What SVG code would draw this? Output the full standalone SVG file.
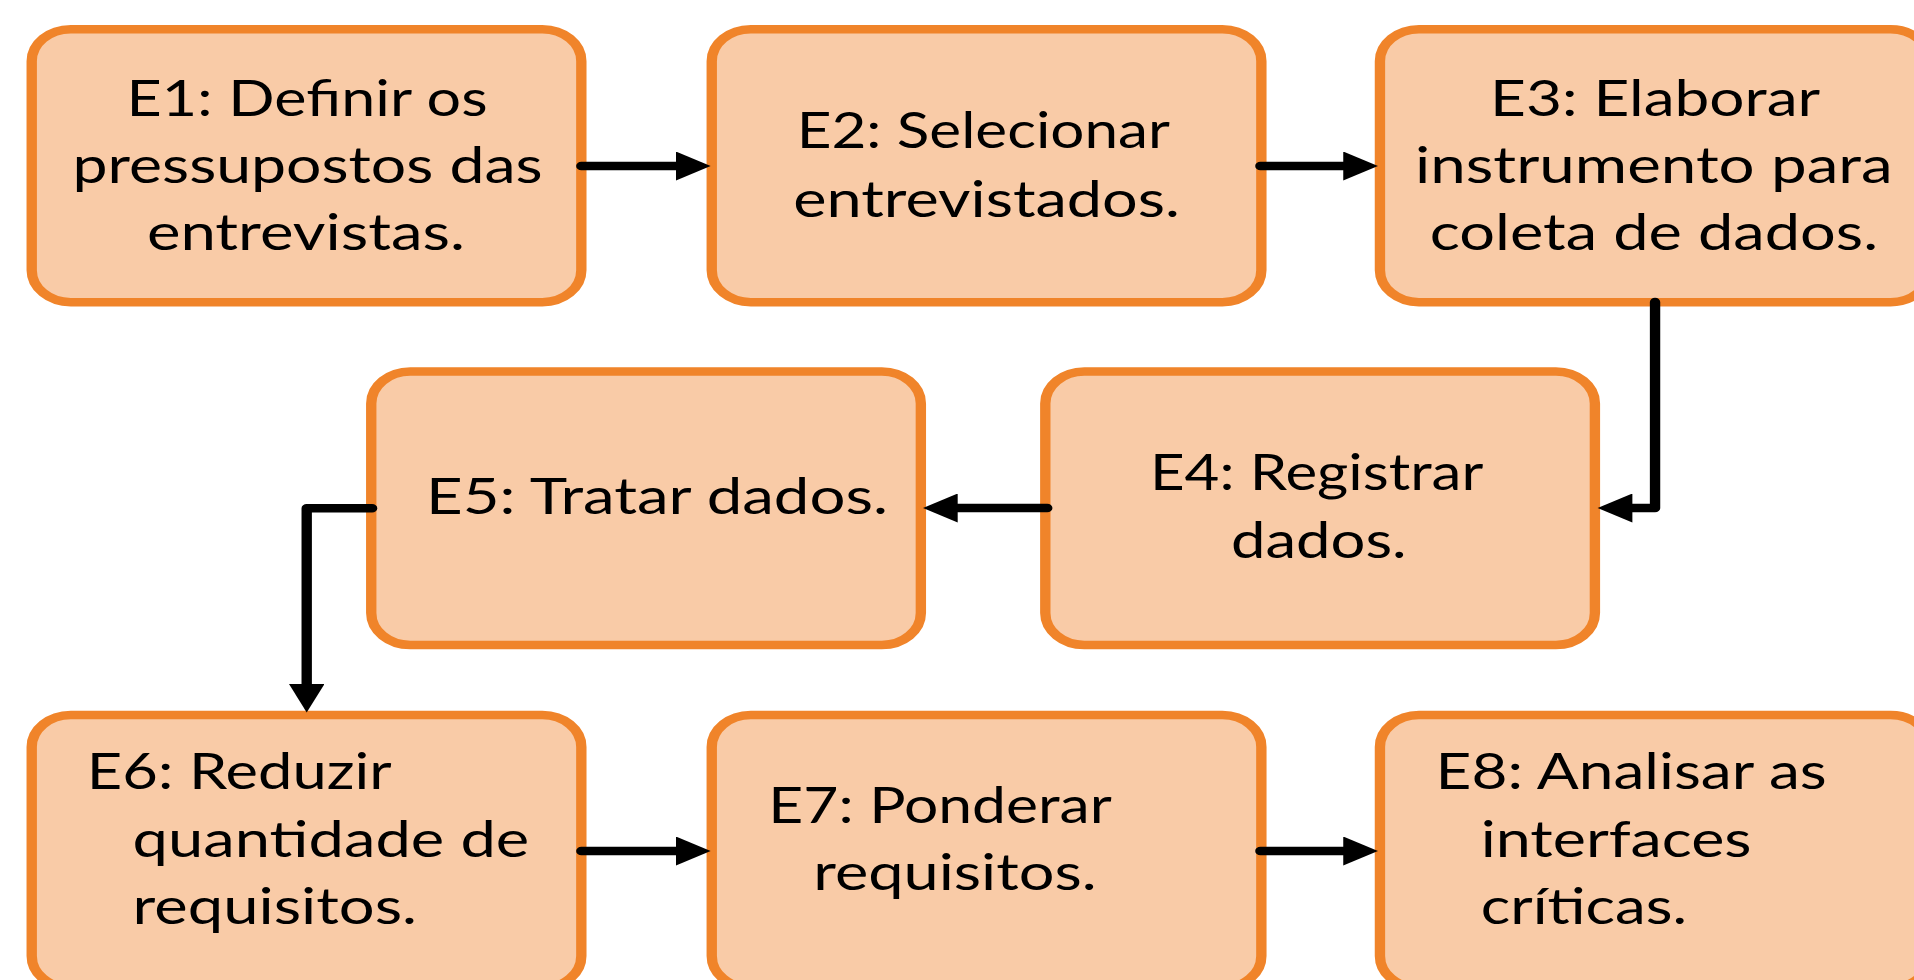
<svg xmlns="http://www.w3.org/2000/svg" width="1914" height="980" viewBox="0 0 1914 980">
  <style>
    .box { fill: #F9CBA7; stroke: #F0842A; stroke-width: 8.5; }
    .lbl { font-family: Lato, "Liberation Sans", sans-serif; font-size: 50px; fill: #000000; }
    .con { fill: none; stroke: #000000; stroke-width: 8.5; stroke-linecap: round; stroke-linejoin: round; }
  </style>
  <defs>
    <marker id="arrow" markerUnits="userSpaceOnUse" markerWidth="29" markerHeight="29" viewBox="0 0 28.5 29" refX="1" refY="14.5" orient="auto">
      <path d="M0,0 L28.5,14.5 L0,29 Z" fill="#000000"/>
    </marker>
  </defs>
  <rect x="0" y="0" width="1914" height="980" fill="#FFFFFF"/>
  <g transform="scale(1.22 1)">
    <g id="E1">
      <rect class="box" x="26" y="29.2" width="450.5" height="273" rx="32" ry="32"/>
      <text class="lbl" lengthAdjust="spacingAndGlyphs">
        <tspan x="103.7" y="115.7" textLength="296">E1: Definir os</tspan>
      </text>
      <text class="lbl" x="59.5" y="182.7" textLength="385.2" lengthAdjust="spacingAndGlyphs">pressupostos das</text>
      <text class="lbl" x="120.4" y="250" textLength="260.7" lengthAdjust="spacingAndGlyphs">entrevistas.</text>
    </g>
    <g id="E2">
      <rect class="box" x="583.4" y="29.2" width="450.5" height="273" rx="32" ry="32"/>
      <text class="lbl" x="653" y="148.3" textLength="306" lengthAdjust="spacingAndGlyphs">E2: Selecionar</text>
      <text class="lbl" x="650.2" y="216.7" textLength="317" lengthAdjust="spacingAndGlyphs">entrevistados.</text>
    </g>
    <g id="E3">
      <rect class="box" x="1131.1" y="29.2" width="450.5" height="273" rx="32" ry="32"/>
      <text class="lbl" x="1221.3" y="115.7" textLength="270.7" lengthAdjust="spacingAndGlyphs">E3: Elaborar</text>
      <text class="lbl" x="1159.8" y="182.7" textLength="391.6" lengthAdjust="spacingAndGlyphs">instrumento para</text>
      <text class="lbl" x="1171.9" y="250" textLength="367.5" lengthAdjust="spacingAndGlyphs">coleta de dados.</text>
    </g>
    <g id="E4">
      <rect class="box" x="856.8" y="371.5" width="450.5" height="273.5" rx="32" ry="32"/>
      <text class="lbl" x="942.6" y="490" textLength="273.2" lengthAdjust="spacingAndGlyphs">E4: Registrar</text>
      <text class="lbl" x="1009" y="558.3" textLength="144" lengthAdjust="spacingAndGlyphs">dados.</text>
    </g>
    <g id="E5">
      <rect class="box" x="304.3" y="371.5" width="450.5" height="273.5" rx="32" ry="32"/>
      <text class="lbl" x="349.2" y="514" textLength="378.7" lengthAdjust="spacingAndGlyphs">E5: Tratar dados.</text>
    </g>
    <g id="E6">
      <rect class="box" x="26" y="715" width="450.5" height="273" rx="32" ry="32"/>
      <text class="lbl" x="71.2" y="789.3" textLength="249.8" lengthAdjust="spacingAndGlyphs">E6: Reduzir</text>
      <text class="lbl" x="108.7" y="856.7" textLength="325.1" lengthAdjust="spacingAndGlyphs">quantidade de</text>
      <text class="lbl" x="108.7" y="924.3" textLength="233.1" lengthAdjust="spacingAndGlyphs">requisitos.</text>
    </g>
    <g id="E7">
      <rect class="box" x="583.4" y="715" width="450.5" height="273" rx="32" ry="32"/>
      <text class="lbl" x="629.8" y="823.3" textLength="281.5" lengthAdjust="spacingAndGlyphs">E7: Ponderar</text>
      <text class="lbl" x="666.6" y="890" textLength="232.3" lengthAdjust="spacingAndGlyphs">requisitos.</text>
    </g>
    <g id="E8">
      <rect class="box" x="1131.1" y="715" width="450.5" height="273" rx="32" ry="32"/>
      <text class="lbl" x="1176.7" y="789.3" textLength="320.6" lengthAdjust="spacingAndGlyphs">E8: Analisar as</text>
      <text class="lbl" x="1213.7" y="856.7" textLength="222" lengthAdjust="spacingAndGlyphs">interfaces</text>
      <text class="lbl" x="1213.7" y="924.3" textLength="169.1" lengthAdjust="spacingAndGlyphs">críticas.</text>
    </g>
    <g id="connectors">
      <path class="con" marker-end="url(#arrow)" d="M476.5,166 H555"/>
      <path class="con" marker-end="url(#arrow)" d="M1033.1,166 H1102"/>
      <path class="con" marker-end="url(#arrow)" d="M1356.6,302 V508 H1337"/>
      <path class="con" marker-end="url(#arrow)" d="M858.4,508 H784"/>
      <path class="con" marker-end="url(#arrow)" d="M305,508.3 H251.4 V685"/>
      <path class="con" marker-end="url(#arrow)" d="M476.5,851 H555"/>
      <path class="con" marker-end="url(#arrow)" d="M1033.1,851 H1102"/>
    </g>
  </g>
</svg>
